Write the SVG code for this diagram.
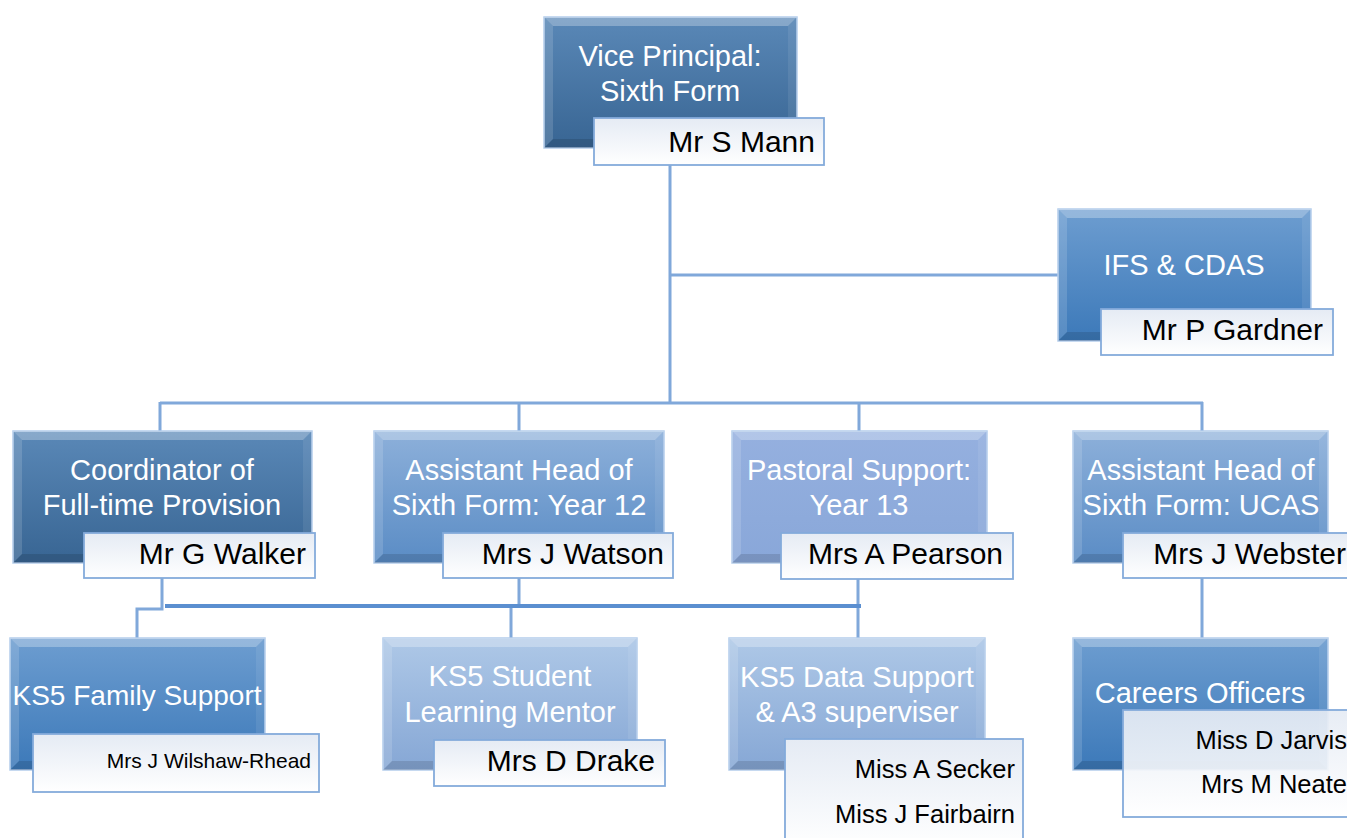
<svg xmlns="http://www.w3.org/2000/svg" width="1347" height="838" viewBox="0 0 1347 838">
<defs>
<linearGradient id="gDark" x1="0" y1="0" x2="0" y2="1"><stop offset="0" stop-color="#5a88b7"/><stop offset="1" stop-color="#386593"/></linearGradient>
<linearGradient id="gMid" x1="0" y1="0" x2="0" y2="1"><stop offset="0" stop-color="#6d9dd0"/><stop offset="1" stop-color="#3c79b9"/></linearGradient>
<linearGradient id="gLt" x1="0" y1="0" x2="0" y2="1"><stop offset="0" stop-color="#8db0da"/><stop offset="1" stop-color="#5a8cc5"/></linearGradient>
<linearGradient id="gPast" x1="0" y1="0" x2="0" y2="1"><stop offset="0" stop-color="#95b0df"/><stop offset="1" stop-color="#89a7d9"/></linearGradient>
<linearGradient id="gPale" x1="0" y1="0" x2="0" y2="1"><stop offset="0" stop-color="#aec8e7"/><stop offset="1" stop-color="#86a7d5"/></linearGradient>
<linearGradient id="gName" x1="0" y1="0" x2="0" y2="1"><stop offset="0" stop-color="#e5ebf4"/><stop offset="1" stop-color="#ffffff"/></linearGradient>
</defs>
<style>
.box{stroke:#b4cdeb;stroke-width:1.5}
.bt{fill:#ffffff;fill-opacity:0.28}
.bl{fill:#ffffff;fill-opacity:0.14}
.bb{fill:#000000;fill-opacity:0.12}
.br{fill:#ffffff;fill-opacity:0.08}
.name{fill:url(#gName);stroke:#84abdb;stroke-width:1.8}
.title{font-family:"Liberation Sans",Arial,sans-serif;font-size:29px;fill:#ffffff;text-anchor:middle}
.nm{font-family:"Liberation Sans",Arial,sans-serif;font-size:30px;fill:#000000;text-anchor:end}
.nms{font-family:"Liberation Sans",Arial,sans-serif;font-size:25.5px;fill:#000000;text-anchor:end}
.con{stroke:#80a8da;stroke-width:3;fill:none}
.conk{stroke:#5b8fd0;stroke-width:4;fill:none}
</style>
<g id="connectors">
<path class="con" d="M670 165V403M670 275H1058M160 403H1203M160 402V431M519 402V431M859 402V431M1202 402V431"/>
<path class="con" d="M162 578V609H137V638M519 578V606M511 607V638M858 579V638M1202 578V638"/>
<path class="conk" d="M165 606H861"/>
</g>
<g id="vp">
<rect class="box" x="544" y="17" width="253" height="131" fill="url(#gDark)"/>
<path class="bt" d="M544 17H797L788 26H553Z"/><path class="bl" d="M544 17L553 26V139L544 148Z"/><path class="bb" d="M544 148L553 139H788L797 148Z"/><path class="br" d="M797 17V148L788 139V26Z"/>
<text class="title" x="670" y="66">Vice Principal:</text>
<text class="title" x="670" y="101">Sixth Form</text>
<rect class="name" x="594" y="118" width="230" height="47"/>
<text class="nm" x="815" y="152">Mr S Mann</text>
</g>
<g id="ifs">
<rect class="box" x="1058" y="209" width="253" height="132" fill="url(#gMid)"/>
<path class="bt" d="M1058 209H1311L1302 218H1067Z"/><path class="bl" d="M1058 209L1067 218V332L1058 341Z"/><path class="bb" d="M1058 341L1067 332H1302L1311 341Z"/><path class="br" d="M1311 209V341L1302 332V218Z"/>
<text class="title" x="1184" y="275">IFS &amp; CDAS</text>
<rect class="name" x="1101" y="309" width="232" height="46"/>
<text class="nm" x="1323" y="340">Mr P Gardner</text>
</g>
<g id="coord">
<rect class="box" x="13" y="431" width="299" height="132" fill="url(#gDark)"/>
<path class="bt" d="M13 431H312L303 440H22Z"/><path class="bl" d="M13 431L22 440V554L13 563Z"/><path class="bb" d="M13 563L22 554H303L312 563Z"/><path class="br" d="M312 431V563L303 554V440Z"/>
<text class="title" x="162" y="480">Coordinator of</text>
<text class="title" x="162" y="515">Full-time Provision</text>
<rect class="name" x="84" y="533" width="231" height="45"/>
<text class="nm" x="306" y="564">Mr G Walker</text>
</g>
<g id="y12">
<rect class="box" x="374" y="431" width="290" height="132" fill="url(#gLt)"/>
<path class="bt" d="M374 431H664L655 440H383Z"/><path class="bl" d="M374 431L383 440V554L374 563Z"/><path class="bb" d="M374 563L383 554H655L664 563Z"/><path class="br" d="M664 431V563L655 554V440Z"/>
<text class="title" x="519" y="480">Assistant Head of</text>
<text class="title" x="519" y="515">Sixth Form: Year 12</text>
<rect class="name" x="443" y="533" width="230" height="45"/>
<text class="nm" x="664" y="564">Mrs J Watson</text>
</g>
<g id="pastoral">
<rect class="box" x="732" y="431" width="255" height="132" fill="url(#gPast)"/>
<path class="bt" d="M732 431H987L978 440H741Z"/><path class="bl" d="M732 431L741 440V554L732 563Z"/><path class="bb" d="M732 563L741 554H978L987 563Z"/><path class="br" d="M987 431V563L978 554V440Z"/>
<text class="title" x="859" y="480">Pastoral Support:</text>
<text class="title" x="859" y="515">Year 13</text>
<rect class="name" x="781" y="533" width="232" height="46"/>
<text class="nm" x="1003" y="564">Mrs A Pearson</text>
</g>
<g id="ucas">
<rect class="box" x="1073" y="431" width="255" height="132" fill="url(#gLt)"/>
<path class="bt" d="M1073 431H1328L1319 440H1082Z"/><path class="bl" d="M1073 431L1082 440V554L1073 563Z"/><path class="bb" d="M1073 563L1082 554H1319L1328 563Z"/><path class="br" d="M1328 431V563L1319 554V440Z"/>
<text class="title" x="1201" y="480">Assistant Head of</text>
<text class="title" x="1201" y="515">Sixth Form: UCAS</text>
<rect class="name" x="1123" y="533" width="240" height="45"/>
<text class="nm" x="1346" y="564">Mrs J Webster</text>
</g>
<g id="family">
<rect class="box" x="10" y="638" width="255" height="132" fill="url(#gMid)"/>
<path class="bt" d="M10 638H265L256 647H19Z"/><path class="bl" d="M10 638L19 647V761L10 770Z"/><path class="bb" d="M10 770L19 761H256L265 770Z"/><path class="br" d="M265 638V770L256 761V647Z"/>
<text class="title" x="137" y="705" style="font-size:28px">KS5 Family Support</text>
<rect class="name" x="33" y="734" width="286" height="58"/>
<text class="nm" x="311" y="768" style="font-size:21px">Mrs J Wilshaw-Rhead</text>
</g>
<g id="mentor">
<rect class="box" x="383" y="638" width="254" height="132" fill="url(#gPale)"/>
<path class="bt" d="M383 638H637L628 647H392Z"/><path class="bl" d="M383 638L392 647V761L383 770Z"/><path class="bb" d="M383 770L392 761H628L637 770Z"/><path class="br" d="M637 638V770L628 761V647Z"/>
<text class="title" x="510" y="686">KS5 Student</text>
<text class="title" x="510" y="722">Learning Mentor</text>
<rect class="name" x="434" y="740" width="231" height="46"/>
<text class="nm" x="655" y="771">Mrs D Drake</text>
</g>
<g id="data">
<rect class="box" x="729" y="638" width="256" height="132" fill="url(#gPale)"/>
<path class="bt" d="M729 638H985L976 647H738Z"/><path class="bl" d="M729 638L738 647V761L729 770Z"/><path class="bb" d="M729 770L738 761H976L985 770Z"/><path class="br" d="M985 638V770L976 761V647Z"/>
<text class="title" x="857" y="687">KS5 Data Support</text>
<text class="title" x="857" y="722">&amp; A3 superviser</text>
<rect class="name" x="785" y="739" width="238" height="110"/>
<text class="nms" x="1015" y="778">Miss A Secker</text>
<text class="nms" x="1015" y="823">Miss J Fairbairn</text>
</g>
<g id="careers">
<rect class="box" x="1073" y="638" width="255" height="132" fill="url(#gMid)"/>
<path class="bt" d="M1073 638H1328L1319 647H1082Z"/><path class="bl" d="M1073 638L1082 647V761L1073 770Z"/><path class="bb" d="M1073 770L1082 761H1319L1328 770Z"/><path class="br" d="M1328 638V770L1319 761V647Z"/>
<text class="title" x="1200" y="703">Careers Officers</text>
<rect class="name" x="1123" y="710" width="240" height="107" fill-opacity="0.92"/>
<text class="nms" x="1347" y="749">Miss D Jarvis</text>
<text class="nms" x="1347" y="793">Mrs M Neate</text>
</g>
</svg>
